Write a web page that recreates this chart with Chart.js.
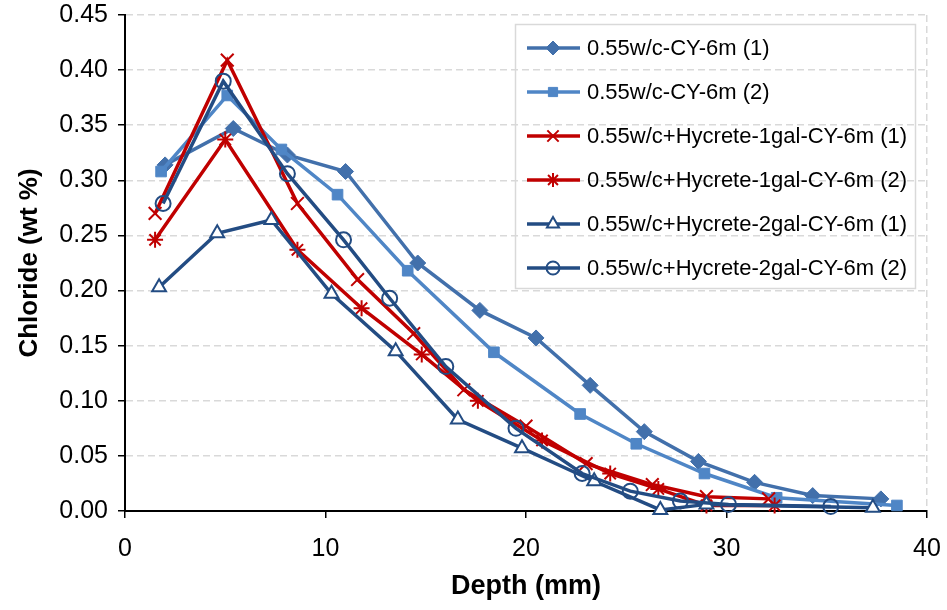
<!DOCTYPE html>
<html lang="en">
<head>
<meta charset="UTF-8">
<title>Chloride (wt %) vs Depth (mm)</title>
<script src="https://cdn.jsdelivr.net/npm/chart.js"></script>
<style>
  body { margin: 0; background: #fff; }
  #wrap { width: 947px; height: 610px; }
</style>
</head>
<body>

<div id="wrap">
    <canvas id="chlorideChart" width="947" height="610"></canvas>
</div>

<script>
    // series names (legend order)
    var seriesNames = [
        '0.55w/c-CY-6m (1)',
        '0.55w/c-CY-6m (2)',
        '0.55w/c+Hycrete-1gal-CY-6m (1)',
        '0.55w/c+Hycrete-1gal-CY-6m (2)',
        '0.55w/c+Hycrete-2gal-CY-6m (1)',
        '0.55w/c+Hycrete-2gal-CY-6m (2)'
    ];

    // depth (mm) / chloride (wt %)
    var depth1 = [2.0, 5.4, 8.1, 11.0, 14.6, 17.7, 20.5, 23.2, 25.9, 28.6, 31.4, 34.3, 37.7];
    var chloride1 = [0.314, 0.347, 0.323, 0.308, 0.225, 0.182, 0.157, 0.114, 0.072, 0.045, 0.026, 0.014, 0.011];

    var depth2 = [1.8, 5.1, 7.8, 10.6, 14.1, 18.4, 22.7, 25.5, 28.9, 32.5, 38.5];
    var chloride2 = [0.308, 0.377, 0.328, 0.287, 0.218, 0.144, 0.088, 0.061, 0.034, 0.012, 0.005];

    var depth3 = [1.5, 5.1, 8.6, 11.6, 14.4, 16.9, 20.0, 23.0, 26.3, 29.0, 32.1];
    var chloride3 = [0.270, 0.409, 0.279, 0.210, 0.161, 0.110, 0.077, 0.043, 0.024, 0.013, 0.011];

    var depth4 = [1.5, 5.0, 8.6, 11.8, 14.8, 17.6, 20.8, 24.2, 26.6, 29.0, 32.4];
    var chloride4 = [0.246, 0.337, 0.237, 0.184, 0.142, 0.100, 0.064, 0.034, 0.020, 0.005, 0.005];

    var depth5 = [1.7, 4.6, 7.3, 10.3, 13.5, 16.6, 19.8, 23.4, 26.7, 29.0, 37.3];
    var chloride5 = [0.203, 0.252, 0.264, 0.197, 0.145, 0.083, 0.057, 0.027, 0.001, 0.006, 0.003];

    var depth6 = [1.9, 4.9, 8.1, 10.9, 13.2, 16.0, 19.5, 22.8, 25.2, 27.7, 30.1, 35.2];
    var chloride6 = [0.279, 0.390, 0.306, 0.246, 0.193, 0.131, 0.075, 0.034, 0.018, 0.009, 0.006, 0.004];

    var xTicks = [0, 10, 20, 30, 40];
    var yTicks = [0, 0.05, 0.10, 0.15, 0.20, 0.25, 0.30, 0.35, 0.40, 0.45];

    var depths = [depth1, depth2, depth3, depth4, depth5, depth6];
    var chlorides = [chloride1, chloride2, chloride3, chloride4, chloride5, chloride6];

    var colors = ['#4270AB', '#4F86C6', '#C00000', '#C00000', '#234C83', '#234C83'];
    var styles = ['rectRot', 'rect', 'crossRot', 'star', 'triangle', 'circle'];
    var radii = [8, 7.5, 9, 8, 8, 7.5];
    var fills = [colors[0], colors[1], colors[2], colors[3], '#ffffff', 'rgba(0,0,0,0)'];
    var borders = [1, 1, 2, 2, 2, 2];

    function toPoints(xs, ys) {
        return xs.map(function(x, i) { return { x: x, y: ys[i] }; });
    }

    var datasets = seriesNames.map(function(name, i) {
        return {
            label: name,
            data: toPoints(depths[i], chlorides[i]),
            showLine: true,
            borderColor: colors[i],
            borderWidth: 3.5,
            backgroundColor: colors[i],
            pointStyle: styles[i],
            pointRadius: radii[i],
            pointBackgroundColor: fills[i],
            pointBorderColor: colors[i],
            pointBorderWidth: borders[i],
            tension: 0,
            clip: false,
            order: 6 - i
        };
    });

    // legend box drawn inside the plot, like the original
    var legendBox = {
        id: 'legendBox',
        afterDraw: function(chart) {
            var ctx = chart.ctx;
            ctx.save();
            ctx.strokeStyle = '#d9d9d9';
            ctx.lineWidth = 1.5;
            ctx.strokeRect(515.5, 24.5, 400, 264);
            chart.data.datasets.forEach(function(ds, i) {
                var y = 48 + i * 44;
                ctx.strokeStyle = ds.borderColor;
                ctx.lineWidth = 3.5;
                ctx.beginPath();
                ctx.moveTo(527, y);
                ctx.lineTo(580, y);
                ctx.stroke();
                ctx.fillStyle = ds.pointBackgroundColor;
                ctx.strokeStyle = ds.pointBorderColor;
                ctx.lineWidth = ds.pointBorderWidth;
                Chart.helpers.drawPoint(ctx, {
                    pointStyle: ds.pointStyle,
                    radius: ds.pointRadius - 1,
                    borderWidth: ds.pointBorderWidth
                }, 553, y);
                ctx.fillStyle = '#000';
                ctx.font = '22px "Liberation Sans", Arial, sans-serif';
                ctx.textBaseline = 'middle';
                ctx.textAlign = 'left';
                ctx.fillText(ds.label, 587, y + 1);
            });
            ctx.restore();
        }
    };

    Chart.defaults.font.family = '"Liberation Sans", Arial, sans-serif';
    Chart.defaults.color = '#000';

    var ctx = document.getElementById('chlorideChart').getContext('2d');

    var chlorideChart = new Chart(ctx, {
        type: 'scatter',
        data: { datasets: datasets },
        options: {
            responsive: false,
            animation: false,
            layout: {
                padding: { top: 15, right: 20, left: 0, bottom: 0 }
            },
            plugins: {
                legend: { display: false },
                tooltip: { enabled: false }
            },
            scales: {
                x: {
                    type: 'linear',
                    min: 0,
                    max: 40,
                    afterBuildTicks: function(scale) {
                        scale.ticks = xTicks.map(function(v) { return { value: v }; });
                    },
                    afterFit: function(scale) {
                        scale.height = 99;
                        scale.paddingLeft = 0;
                        scale.paddingRight = 0;
                    },
                    ticks: {
                        font: { size: 25 },
                        padding: 16,
                        callback: function(v) { return v; }
                    },
                    grid: {
                        color: function(c) {
                            return c.tick && c.tick.value === 40 ? '#d9d9d9' : 'rgba(0,0,0,0)';
                        },
                        lineWidth: 1.5,
                        tickColor: '#000',
                        tickLength: 7,
                        tickWidth: 1.5
                    },
                    border: { color: '#000', width: 2, dash: [7, 4] },
                    title: {
                        display: true,
                        text: 'Depth (mm)',
                        font: { size: 27, weight: 'bold' },
                        padding: { top: 0, bottom: 7 }
                    }
                },
                y: {
                    type: 'linear',
                    min: 0,
                    max: 0.45,
                    afterBuildTicks: function(scale) {
                        scale.ticks = yTicks.map(function(v) { return { value: v }; });
                    },
                    afterFit: function(scale) {
                        scale.width = 125;
                        scale.paddingTop = 0;
                        scale.paddingBottom = 0;
                    },
                    ticks: {
                        font: { size: 25 },
                        padding: 10,
                        callback: function(v) { return Number(v).toFixed(2); }
                    },
                    grid: {
                        color: '#d9d9d9',
                        lineWidth: 1.5,
                        tickColor: '#000',
                        tickLength: 7,
                        tickWidth: 1.5
                    },
                    border: { color: '#000', width: 2, dash: [7, 4] },
                    title: {
                        display: true,
                        text: 'Chloride (wt %)',
                        font: { size: 26, weight: 'bold' },
                        padding: { top: 14, bottom: 0 }
                    }
                }
            }
        },
        plugins: [legendBox]
    });
</script>

</body>
</html>
